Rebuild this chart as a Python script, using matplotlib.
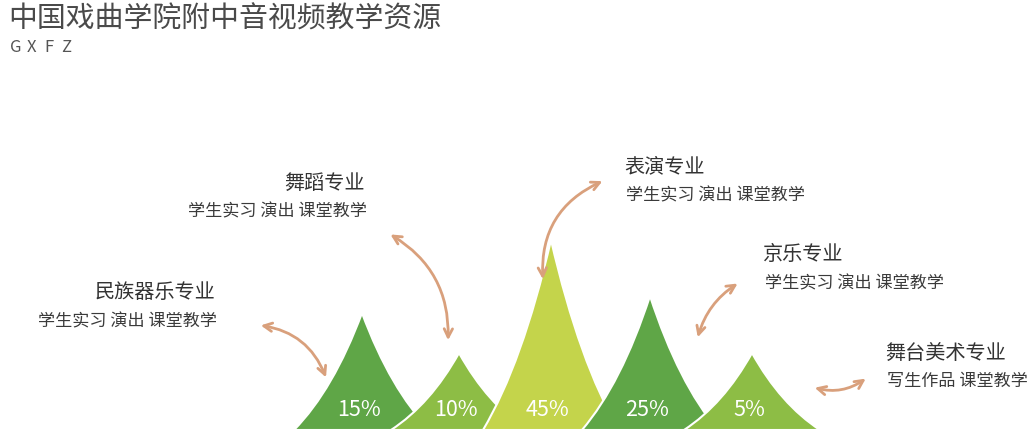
import matplotlib
matplotlib.use("Agg")
import matplotlib.pyplot as plt
from matplotlib.path import Path
from matplotlib.patches import PathPatch, FancyArrowPatch

plt.rcParams['font.family'] = ['Noto Sans CJK SC', 'DejaVu Sans']

# data
title = "中国戏曲学院附中音视频教学资源"
subtitle = ["G", "X", "F", "Z"]
majors = ["民族器乐专业", "舞蹈专业", "表演专业", "京乐专业", "舞台美术专业"]
details = ["学生实习 演出 课堂教学", "学生实习 演出 课堂教学", "学生实习 演出 课堂教学",
           "学生实习 演出 课堂教学", "写生作品 课堂教学"]
shares = [15, 10, 45, 25, 5]
peak_heights = [117, 77, 190, 134, 77]

# layout (pixel-like units, y up)
peak_x = [362, 459, 551, 650, 752]
half_w = 68
peak_colors = ["#5fa647", "#8dbd45", "#c4d44b", "#5fa647", "#8dbd45"]
arrow_color = "#d9a07c"

label_pos = [(215, 139, "right"), (365, 249, "right"), (624, 265, "left"),
             (763, 177, "left"), (885, 79, "left")]
arrow_ends = [((258, 107), (327, 52), -0.3),
              ((388, 199), (448, 89), -0.3),
              ((605, 252), (543, 150), 0.35),
              ((740, 150), (697, 92), 0.2),
              ((812, 45), (868, 55), 0.25)]

fig = plt.figure(figsize=(10.3, 4.32), dpi=100)
ax = fig.add_axes([0, 0, 1, 1])
ax.set_xlim(0, 1030)
ax.set_ylim(0, 432)
ax.axis("off")

ax.text(8, 412, title, fontsize=20.8, color="#4a4a4a", va="center", ha="left")
for k, ch in enumerate(subtitle):
    ax.text(10 + 17 * k, 384, ch, fontsize=12, color="#555555", va="center", ha="left")

# peaks
for i, (cx, h, share, col) in enumerate(zip(peak_x, peak_heights, shares, peak_colors)):
    verts = [(cx - half_w, 2), (cx - 0.42 * half_w, 0.36 * h), (cx, h + 2),
             (cx + 0.42 * half_w, 0.36 * h), (cx + half_w, 2), (cx - half_w, 2)]
    codes = [Path.MOVETO, Path.CURVE3, Path.CURVE3, Path.CURVE3, Path.CURVE3, Path.CLOSEPOLY]
    ax.add_patch(PathPatch(Path(verts, codes), facecolor=col, edgecolor="white",
                           lw=1.5, zorder=2 + i))
    ax.text(cx - 3, 22, "%d%%" % share, fontsize=15.5, color="white",
            ha="center", va="center", zorder=10)

# labels
for (x, y, ha), major, det in zip(label_pos, majors, details):
    ax.text(x, y, major, fontsize=14.5, color="#333333", ha=ha, va="center")
    ax.text(x + 2, y - 28, det, fontsize=12.3, color="#3a3a3a", ha=ha, va="center")

# arrows
for a, b, rad in arrow_ends:
    arr = FancyArrowPatch(a, b, connectionstyle="arc3,rad=%s" % rad,
                          arrowstyle="<->,head_length=6,head_width=3",
                          color=arrow_color, lw=2, mutation_scale=1, zorder=12)
    ax.add_patch(arr)

fig.savefig("out.png", dpi=100)
